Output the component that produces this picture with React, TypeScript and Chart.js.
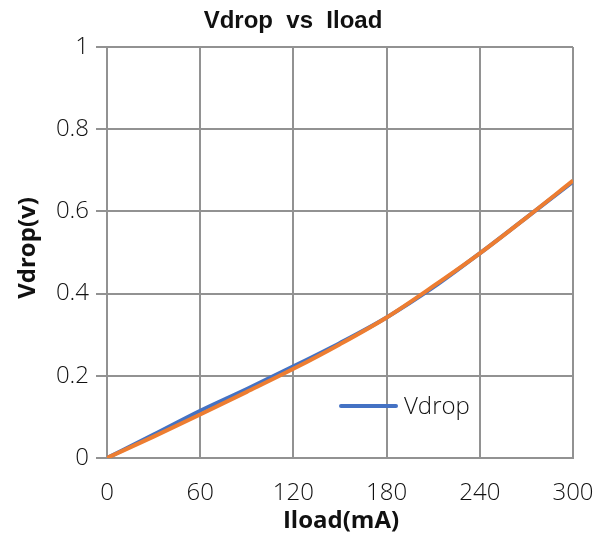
import React, { useEffect, useRef } from "react";
import { Chart, registerables } from "chart.js";

Chart.register(...registerables);

const currentsMA = [0, 30, 60, 90, 120, 150, 180, 210, 240, 270, 300];
const vdropBlue = [0, 0.057, 0.115, 0.168, 0.223, 0.28, 0.342, 0.415, 0.498, 0.585, 0.672];
const vdropOrange = [0, 0.052, 0.106, 0.161, 0.217, 0.277, 0.342, 0.418, 0.498, 0.585, 0.675];
const xTicks = [0, 60, 120, 180, 240, 300];
const yTicks = [0, 0.2, 0.4, 0.6, 0.8, 1];

const chartTitle = "Vdrop  vs  Iload";
const xTitle = "Iload(mA)";
const yTitle = "Vdrop(v)";
const legendLabel = "Vdrop";

const BLUE = "#4472C4";
const ORANGE = "#ED7D31";
const GRID = "#929292";
const TEXT = "#111111";

const textPlugin = {
  id: "texts",
  afterDraw(chart: any) {
    const { ctx, chartArea } = chart;
    ctx.save();
    ctx.fillStyle = TEXT;
    ctx.textAlign = "center";
    ctx.textBaseline = "middle";
    ctx.font = "bold 24px 'Liberation Sans', Arial, sans-serif";
    ctx.fillText(chartTitle, 293, 21);

    ctx.font = "bold 24px 'Open Sans', sans-serif";
    ctx.fillText(xTitle, 341, 521);

    ctx.save();
    ctx.translate(28, 248);
    ctx.rotate(-Math.PI / 2);
    ctx.fillText(yTitle, 0, 0);
    ctx.restore();

    // legend inside plot
    const lx = chartArea.left + 234;
    const ly = chartArea.top + 359;
    ctx.strokeStyle = BLUE;
    ctx.lineWidth = 4;
    ctx.lineCap = "round";
    ctx.beginPath();
    ctx.moveTo(lx, ly);
    ctx.lineTo(lx + 55, ly);
    ctx.stroke();
    ctx.textAlign = "left";
    ctx.font = "300 24px 'Open Sans', sans-serif";
    ctx.fillText(legendLabel, lx + 63, ly + 1);
    ctx.restore();
  },
};

export default function App() {
  const ref = useRef<HTMLCanvasElement | null>(null);
  useEffect(() => {
    if (!ref.current) return;
    const chart = new Chart(ref.current, {
      type: "line",
      data: {
        datasets: [
          {
            label: legendLabel,
            data: currentsMA.map((x, i) => ({ x, y: vdropBlue[i] })),
            borderColor: BLUE,
            borderWidth: 4,
            pointRadius: 0,
            cubicInterpolationMode: "monotone",
            order: 1,
          },
          {
            label: "Vdrop2",
            data: currentsMA.map((x, i) => ({ x, y: vdropOrange[i] })),
            borderColor: ORANGE,
            borderWidth: 4,
            pointRadius: 0,
            cubicInterpolationMode: "monotone",
            order: 0,
          },
        ],
      },
      options: {
        animation: false,
        responsive: false,
        maintainAspectRatio: false,
        layout: { padding: { left: 0, right: 34, top: 47, bottom: 0 } },
        plugins: {
          legend: { display: false },
          title: { display: false },
          tooltip: { enabled: false },
        },
        scales: {
          x: {
            type: "linear",
            min: 0,
            max: 300,
            afterBuildTicks: (s: any) => {
              s.ticks = xTicks.map((v) => ({ value: v }));
            },
            afterFit: (s: any) => {
              s.height = 84;
              s.paddingRight = 0;
              s.paddingLeft = 0;
            },
            grid: { color: GRID, lineWidth: 2, drawTicks: false },
            border: { color: GRID, width: 2 },
            ticks: {
              color: TEXT,
              padding: 21,
              maxRotation: 0,
              font: { family: "'Open Sans', sans-serif", size: 24, weight: 300 as any },
            },
          },
          y: {
            type: "linear",
            min: 0,
            max: 1,
            afterBuildTicks: (s: any) => {
              s.ticks = yTicks.map((v) => ({ value: v }));
            },
            afterFit: (s: any) => {
              s.width = 107;
              s.paddingTop = 0;
              s.paddingBottom = 0;
            },
            grid: { color: GRID, lineWidth: 2, drawTicks: true, tickLength: 11 },
            border: { color: GRID, width: 2 },
            ticks: {
              color: TEXT,
              padding: 7,
              font: { family: "'Open Sans', sans-serif", size: 24, weight: 300 as any },
              callback: (v: any) => String(v),
            },
          },
        },
      },
      plugins: [textPlugin],
    } as any);
    return () => chart.destroy();
  }, []);
  return (
    <div style={{ position: "fixed", left: 0, top: 0, width: 607, height: 542, background: "#fff" }}>
      <canvas ref={ref} width={607} height={542} style={{ width: 607, height: 542, display: "block" }} />
    </div>
  );
}
